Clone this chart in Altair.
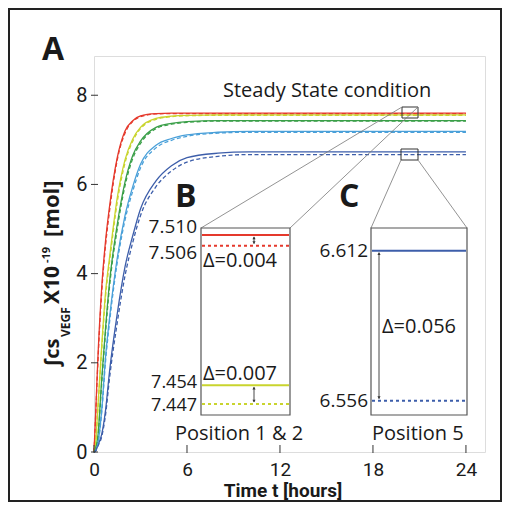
import altair as alt
import pandas as pd

# ---------------- data ----------------
T = [0, 0.1, 0.25, 0.5, 0.75, 1, 1.5, 2, 2.5, 3, 4, 5, 6, 8, 10, 12, 16, 20, 24]

SERIES = ["Position 1", "Position 2", "Position 3", "Position 4", "Position 5"]
COLORS = ["#e5392c", "#c9d42e", "#3a9f48", "#4aa0d9", "#3d5eaa"]

# solid curves
P1 = [0, 0.80, 2.10, 3.70, 4.75, 5.50, 6.60, 7.20, 7.43, 7.54, 7.59, 7.60, 7.60, 7.60, 7.60, 7.60, 7.60, 7.60, 7.60]
P2 = [0, 0.20, 1.00, 2.40, 3.60, 4.35, 5.70, 6.55, 7.02, 7.28, 7.48, 7.53, 7.55, 7.56, 7.56, 7.56, 7.56, 7.56, 7.56]
P3 = [0, 0.08, 0.35, 1.65, 2.80, 3.80, 5.10, 6.05, 6.65, 6.97, 7.28, 7.37, 7.41, 7.43, 7.43, 7.43, 7.43, 7.43, 7.43]
P4 = [0, 0.03, 0.20, 0.95, 2.15, 3.00, 4.35, 5.30, 5.95, 6.45, 6.88, 7.03, 7.11, 7.17, 7.19, 7.19, 7.19, 7.19, 7.19]
P5 = [0, 0.02, 0.15, 0.40, 0.95, 1.80, 3.10, 4.15, 4.85, 5.45, 6.08, 6.42, 6.60, 6.70, 6.73, 6.73, 6.73, 6.73, 6.73]
# dashed curves
D1 = [0, 0.76, 2.00, 3.60, 4.65, 5.40, 6.55, 7.15, 7.41, 7.52, 7.58, 7.59, 7.59, 7.59, 7.59, 7.59, 7.59, 7.59, 7.59]
D2 = [0, 0.18, 0.95, 2.30, 3.50, 4.25, 5.60, 6.48, 6.97, 7.25, 7.46, 7.52, 7.54, 7.55, 7.55, 7.55, 7.55, 7.55, 7.55]
D3 = [0, 0.07, 0.32, 1.55, 2.70, 3.70, 5.00, 5.97, 6.58, 6.92, 7.25, 7.35, 7.39, 7.42, 7.42, 7.42, 7.42, 7.42, 7.42]
D4 = [0, 0.03, 0.18, 0.90, 2.05, 2.90, 4.25, 5.20, 5.85, 6.37, 6.82, 6.99, 7.08, 7.15, 7.17, 7.17, 7.17, 7.17, 7.17]
D5 = [0, 0.02, 0.13, 0.35, 0.85, 1.65, 2.90, 3.95, 4.70, 5.30, 5.95, 6.30, 6.50, 6.63, 6.67, 6.67, 6.67, 6.67, 6.67]

SOLID = [P1, P2, P3, P4, P5]
DASHED = [D1, D2, D3, D4, D5]

X_TICKS = [0, 6, 12, 18, 24]
Y_TICKS = [0, 2, 4, 6, 8]

# inset B (positions 1 & 2) and inset C (position 5)
B_SOLID = [7.510, 7.454]
B_DOTTED = [7.506, 7.447]
B_COLORS = ["#e5392c", "#c9d42e"]
B_LABELS = ["7.510", "7.506", "7.454", "7.447"]
B_DELTAS = ["Δ=0.004", "Δ=0.007"]
C_SOLID = [6.612]
C_DOTTED = [6.556]
C_COLORS = ["#3d5eaa"]
C_LABELS = ["6.612", "6.556"]
C_DELTAS = ["Δ=0.056"]

# ---------------- layout ----------------
W, H = 391, 396
OX, OY = 94, 56          # page position of the plot origin
FONT = "Open Sans"
AXFONT = "Roboto"


def px(x):
    return x - OX


def py(y):
    return y - OY


xs = alt.Scale(domain=[0, 25.23], nice=False, zero=False)
ys = alt.Scale(domain=[0, 8.88], nice=False, zero=False)
bscale = alt.Scale(domain=[7.4429, 7.5126], range=[py(415), py(228)], nice=False, zero=False)
cscale = alt.Scale(domain=[6.55066, 6.62047], range=[py(415), py(228)], nice=False, zero=False)

XAXIS = alt.Axis(values=X_TICKS, ticks=False, tickSize=0, domain=False, grid=False,
                 labelFont=AXFONT, labelFontSize=19, labelColor="#1a1a1a", labelPadding=8,
                 title=None, labelFlush=False)
YAXIS = alt.Axis(values=Y_TICKS, ticks=False, tickSize=0, domain=False, grid=False,
                 labelFont=AXFONT, labelFontSize=20, labelColor="#1a1a1a", labelPadding=7,
                 title=None, labelFlush=False)

one = alt.Data(values=[{}])


def txt(s, x, y, size=20, weight="normal", align="left", baseline="alphabetic", angle=0,
        color="#1a1a1a", font=FONT):
    return alt.Chart(alt.Data(values=[{"s": s}])).mark_text(
        font=font, fontSize=size, fontWeight=weight, align=align, baseline=baseline,
        angle=angle, color=color
    ).encode(x=alt.value(px(x)), y=alt.value(py(y)), text="s:N")


def seg(x1, y1, x2, y2, color="#777", width=0.8):
    return alt.Chart(one).mark_rule(color=color, strokeWidth=width).encode(
        x=alt.value(px(x1)), y=alt.value(py(y1)), x2=alt.value(px(x2)), y2=alt.value(py(y2)))


def box(x1, y1, x2, y2, stroke="#555", width=1.2, fill="white", fill_opacity=1.0):
    return alt.Chart(one).mark_rect(stroke=stroke, strokeWidth=width, fill=fill,
                                    fillOpacity=fill_opacity).encode(
        x=alt.value(px(x1)), y=alt.value(py(y1)), x2=alt.value(px(x2)), y2=alt.value(py(y2)))


rows_s, rows_d = [], []
for name, col, sv, dv in zip(SERIES, COLORS, SOLID, DASHED):
    for t, a, b in zip(T, sv, dv):
        rows_s.append({"t": t, "v": a, "series": name, "color": col})
        rows_d.append({"t": t, "v": b, "series": name, "color": col})
df_s = pd.DataFrame(rows_s)
df_d = pd.DataFrame(rows_d)

solid = alt.Chart(df_s).mark_line(interpolate="monotone", strokeWidth=1.3).encode(
    x=alt.X("t:Q", scale=xs, axis=XAXIS),
    y=alt.Y("v:Q", scale=ys, axis=YAXIS),
    color=alt.Color("color:N", scale=None),
    detail="series:N",
)
dashed = alt.Chart(df_d).mark_line(interpolate="monotone", strokeWidth=1.3, strokeDash=[4, 2.5]).encode(
    x=alt.X("t:Q", scale=xs, axis=XAXIS),
    y=alt.Y("v:Q", scale=ys, axis=None),
    color=alt.Color("color:N", scale=None),
    detail="series:N",
)

xt = alt.Chart(pd.DataFrame({"t": X_TICKS})).mark_rule(color="#333", strokeWidth=1).encode(
    x=alt.X("t:Q", scale=xs, axis=XAXIS), y=alt.value(H - 7), y2=alt.value(H + 1))
yt = alt.Chart(pd.DataFrame({"v": Y_TICKS})).mark_rule(color="#333", strokeWidth=1).encode(
    y=alt.Y("v:Q", scale=ys, axis=None), x=alt.value(-3), x2=alt.value(4))


def inset_lines(values, colors, scale, x1, x2, dash=None):
    df = pd.DataFrame({"v": values, "color": colors})
    kw = dict(strokeWidth=2)
    if dash is not None:
        kw["strokeDash"] = dash
    return alt.Chart(df).mark_rule(**kw).encode(
        y=alt.Y("v:Q", scale=scale, axis=None),
        x=alt.value(px(x1)), x2=alt.value(px(x2)),
        color=alt.Color("color:N", scale=None))


def inset_label(label, value, scale, xr, dy, size=19):
    return alt.Chart(pd.DataFrame({"v": [value], "s": [label]})).mark_text(
        font=FONT, fontSize=size, align="right", baseline="middle", dy=dy, color="#1a1a1a"
    ).encode(y=alt.Y("v:Q", scale=scale, axis=None), x=alt.value(px(xr)), text="s:N")


def arrow(v_top, v_bot, scale, x):
    df = pd.DataFrame({"v": [v_top], "v2": [v_bot]})
    line = alt.Chart(df).mark_rule(color="#333", strokeWidth=0.9, yOffset=2, y2Offset=-2).encode(
        y=alt.Y("v:Q", scale=scale, axis=None), y2="v2:Q", x=alt.value(px(x)))
    up = alt.Chart(pd.DataFrame({"v": [v_top]})).mark_point(
        shape="triangle-up", filled=True, size=10, color="#333", yOffset=3, opacity=1).encode(
        y=alt.Y("v:Q", scale=scale, axis=None), x=alt.value(px(x)))
    down = alt.Chart(pd.DataFrame({"v": [v_bot]})).mark_point(
        shape="triangle-down", filled=True, size=10, color="#333", yOffset=-3, opacity=1).encode(
        y=alt.Y("v:Q", scale=scale, axis=None), x=alt.value(px(x)))
    return [line, up, down]


layers = [
    box(9, 9, 501, 501, stroke="#222", width=2, fill="white", fill_opacity=0),
    solid, dashed, xt, yt,
    # source boxes on the curves
    box(402, 107, 418, 118, stroke="#333", width=1, fill="white", fill_opacity=0),
    box(401, 149, 418, 160, stroke="#333", width=1, fill="white", fill_opacity=0),
    # connectors
    seg(402, 107, 201, 228), seg(418, 107, 290, 228),
    seg(401, 160, 371, 228), seg(418, 160, 467, 228),
    # inset frames
    box(201, 228, 290, 415), box(371, 228, 467, 415),
    inset_lines(B_SOLID, B_COLORS, bscale, 202, 289),
    inset_lines(B_DOTTED, B_COLORS, bscale, 202, 289, dash=[3, 3]),
    inset_lines(C_SOLID, C_COLORS, cscale, 372, 466),
    inset_lines(C_DOTTED, C_COLORS, cscale, 372, 466, dash=[3, 3]),
]
layers += arrow(B_SOLID[0], B_DOTTED[0], bscale, 254)
layers += arrow(B_SOLID[1], B_DOTTED[1], bscale, 254)
layers += arrow(C_SOLID[0], C_DOTTED[0], cscale, 379)
layers += [
    inset_label(B_LABELS[0], B_SOLID[0], bscale, 197, -8),
    inset_label(B_LABELS[1], B_DOTTED[0], bscale, 197, 7),
    inset_label(B_LABELS[2], B_SOLID[1], bscale, 197, -2, size=18),
    inset_label(B_LABELS[3], B_DOTTED[1], bscale, 197, 2, size=18),
    inset_label(C_LABELS[0], C_SOLID[0], cscale, 368, 0),
    inset_label(C_LABELS[1], C_DOTTED[0], cscale, 368, 0),
    txt(B_DELTAS[0], 203, 267),
    txt(B_DELTAS[1], 203, 380),
    txt(C_DELTAS[0], 382, 333),
    txt("B", 175, 207, size=32, weight="bold"),
    txt("C", 339, 207, size=32, weight="bold"),
    txt("Position 1 & 2", 175, 440),
    txt("Position 5", 372, 440),
    txt("Steady State condition", 223, 97),
    txt("A", 42, 60, size=32, weight="bold"),
    txt("Time t [hours]", 283, 497, size=19, weight="bold", align="center", font=AXFONT),
    # y title pieces (rotated)
    txt("∫cs", 59, 367, size=20, weight="bold", angle=270),
    txt("VEGF", 70, 337, size=12, weight="bold", angle=270),
    txt("X10", 59, 304, size=21, weight="bold", angle=270),
    txt("-19", 50, 263, size=11, weight="bold", angle=270),
    txt("[mol]", 59, 237, size=22, weight="bold", angle=270),
]

chart = alt.layer(*layers).resolve_scale(y="independent").properties(
    width=W, height=H,
    autosize=alt.AutoSizeParams(type="none"),
    padding={"left": 86, "top": 48, "right": 17, "bottom": 50},
).configure_view(stroke="#555", strokeWidth=1).configure(background="white")

chart.save("out.html", embed_options={"renderer": "svg", "actions": False})
